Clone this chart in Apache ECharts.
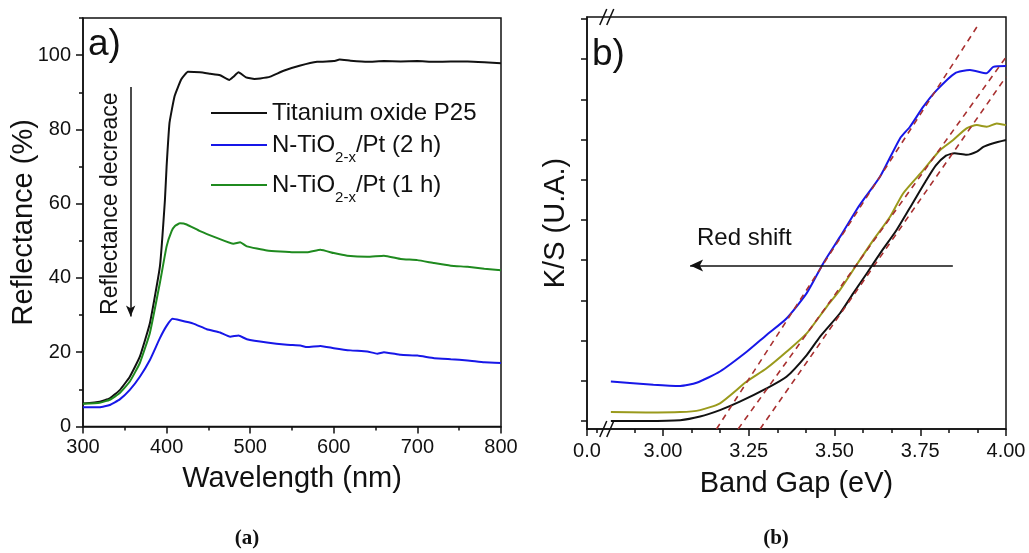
<!DOCTYPE html>
<html>
<head>
<meta charset="utf-8">
<script src="https://cdn.jsdelivr.net/npm/echarts@6/dist/echarts.min.js"></script>
<style>
  html, body { margin: 0; padding: 0; background: #fff; }
  #chart { width: 1029px; height: 553px; }
</style>
</head>
<body>
<div id="chart"></div>
<script>
const FONT = '"Liberation Sans", Arial, Helvetica, sans-serif';
const INK = '#111';

// ---- Panel (a): diffuse reflectance spectra ----
const wlP25 = [300, 320, 332, 344, 356, 368, 380, 392, 398, 400, 403.5, 409.6, 417.6, 425.5, 440, 452, 464, 475, 480, 486, 495, 505, 512, 524, 540, 560, 580, 600, 607, 620, 640, 660, 680, 700, 720, 740, 760, 780, 800];
const reflP25 = [6.2, 6.7, 7.6, 9.8, 13.4, 18.8, 27.8, 43.1, 61.0, 70.0, 81.8, 89.0, 93.5, 95.5, 95.4, 95.0, 94.6, 93.3, 94.2, 95.4, 94.0, 93.6, 93.7, 94.2, 95.8, 97.2, 98.2, 98.4, 98.8, 98.5, 98.2, 98.4, 98.3, 98.4, 98.2, 98.3, 98.3, 98.1, 97.8];

const wl2h = [300, 320, 332, 344, 356, 368, 380, 392, 400, 407, 416, 432, 448, 464, 476, 486, 496, 520, 544, 560, 568, 584, 600, 620, 640, 652, 660, 680, 700, 720, 740, 760, 780, 800];
const refl2h = [5.2, 5.2, 5.8, 7.3, 9.85, 13.4, 17.9, 23.8, 27.1, 29.0, 28.6, 27.7, 26.2, 25.3, 24.2, 24.5, 23.5, 22.6, 22.0, 21.8, 21.4, 21.7, 21.1, 20.5, 20.2, 19.6, 20.0, 19.3, 19.1, 18.4, 18.1, 17.8, 17.3, 17.1];

const wl1h = [300, 320, 332, 344, 356, 368, 380, 392, 400, 406, 410, 416, 424, 440, 460, 480, 488, 496, 520, 552, 568, 584, 600, 616, 640, 660, 680, 700, 720, 740, 760, 780, 800];
const refl1h = [6.1, 6.4, 7.2, 9.0, 12.1, 17.1, 25.2, 38.7, 48.5, 52.6, 54.0, 54.7, 54.4, 52.6, 50.8, 49.2, 49.6, 48.5, 47.4, 46.9, 46.9, 47.6, 46.7, 46.0, 45.7, 46.0, 45.1, 44.8, 44.0, 43.3, 43.0, 42.5, 42.1];

const reflMajorTicks = [0, 20, 40, 60, 80, 100];
const reflMinorTicks = [10, 30, 50, 70, 90, 110];

// ---- Panel (b): Kubelka-Munk K/S vs photon energy ----
const eP25 = [2.848, 2.95, 3.05, 3.108, 3.166, 3.224, 3.302, 3.36, 3.419, 3.458, 3.516, 3.555, 3.594, 3.633, 3.681, 3.73, 3.765, 3.795, 3.825, 3.85, 3.885, 3.915, 3.934, 3.963, 4.0];
const ksP25 = [0.0, 0.0, 0.02, 0.11, 0.27, 0.48, 0.81, 1.10, 1.64, 2.10, 2.68, 3.18, 3.67, 4.17, 4.75, 5.45, 5.95, 6.35, 6.60, 6.66, 6.62, 6.70, 6.82, 6.91, 6.99];

const e1h = [2.848, 2.95, 3.05, 3.108, 3.166, 3.244, 3.302, 3.36, 3.419, 3.477, 3.516, 3.564, 3.613, 3.662, 3.70, 3.759, 3.808, 3.846, 3.885, 3.915, 3.944, 3.973, 4.0];
const ks1h = [0.22, 0.21, 0.22, 0.27, 0.44, 0.98, 1.31, 1.72, 2.18, 2.84, 3.26, 3.88, 4.50, 5.08, 5.66, 6.24, 6.74, 6.99, 7.28, 7.36, 7.32, 7.40, 7.36];

const e2h = [2.848, 2.972, 3.05, 3.098, 3.166, 3.244, 3.302, 3.36, 3.419, 3.467, 3.516, 3.564, 3.584, 3.633, 3.691, 3.72, 3.759, 3.798, 3.851, 3.895, 3.943, 3.963, 4.0];
const ks2h = [0.98, 0.90, 0.87, 0.95, 1.23, 1.72, 2.14, 2.55, 3.18, 3.92, 4.58, 5.25, 5.50, 6.08, 7.03, 7.32, 7.82, 8.23, 8.65, 8.73, 8.65, 8.81, 8.83];

// Linear extrapolations of the absorption edges (end points)
const tan2hE = [3.156, 3.915];
const tan2hKS = [-0.2, 9.8];
const tan1hE = [3.219, 4.0];
const tan1hKS = [-0.2, 9.05];
const tanP25E = [3.283, 4.0];
const tanP25KS = [-0.2, 8.56];

// Energy axis: origin "0.0" on the left, then a break, then 3.00 - 4.00 eV
const eAxisMin = 2.7784;
const eMajorTicks = [eAxisMin, 3.0, 3.25, 3.5, 3.75, 4.0];
const eMajorLabels = ['0.0', '3.00', '3.25', '3.50', '3.75', '4.00'];
const eMinorTicks = [2.807, 2.9167, 3.0833, 3.1667, 3.3333, 3.4167, 3.5833, 3.6667, 3.8333, 3.9167];
const ksTicks = [0, 1, 2, 3, 4, 5, 6, 7, 8, 9, 10];
const eBreak = 2.836;

// Annotation anchors (data units)
const decreaseArrow = { x: 357, from: 91.4, to: 29.6 };
const decreaseText = { x: 333, y: 60 };
const redShiftArrow = { from: 3.845, to: 3.079, y: 3.87 };
const redShiftText = { x: 3.099, y: 4.55 };

const zip = (xs, ys) => xs.map((x, i) => [x, ys[i]]);

const C_P25 = '#111111';
const C_2H = '#1717e8';
const C_1H = '#1f8a1f';
const C_1H_KS = '#9a9a1c';
const C_TAN = '#a83030';

const axisLineStyle = { color: INK, width: 1.5 };
const tickStyle = { color: INK, width: 1.5 };

const chart = echarts.init(document.getElementById('chart'), null, { renderer: 'canvas' });

const legendNames = ['Titanium oxide P25', 'N-TiO2-x/Pt (2 h)', 'N-TiO2-x/Pt (1 h)'];

function tangentSeries(name, xs, ys) {
  return {
    name, type: 'line', xAxisIndex: 1, yAxisIndex: 2,
    data: zip(xs, ys), symbol: 'none', clip: true, silent: true,
    lineStyle: { color: C_TAN, width: 1.6, type: [6, 5] }, z: 4
  };
}

const option = {
  animation: false,
  backgroundColor: '#fff',
  textStyle: { fontFamily: FONT, color: INK },
  grid: [
    { left: 83, right: 528, top: 18, bottom: 126.5, show: true, borderColor: INK, borderWidth: 1.5, backgroundColor: 'transparent' },
    { left: 587, right: 23, top: 17, bottom: 124, show: true, borderColor: INK, borderWidth: 1.5, backgroundColor: 'transparent' }
  ],
  legend: {
    data: legendNames,
    orient: 'vertical',
    left: 211, top: 101,
    padding: 0,
    itemGap: 0,
    icon: 'rect',
    itemWidth: 56, itemHeight: 2,
    selectedMode: false,
    textStyle: {
      fontFamily: FONT, color: INK, fontSize: 24,
      rich: {
        m: { fontFamily: FONT, fontSize: 24, lineHeight: 28, color: INK },
        s: { fontFamily: FONT, fontSize: 15, lineHeight: 20, padding: [25, 0, 0, 0], color: INK }
      }
    },
    formatter: name => {
      const m = name.match(/^(N-TiO)(2-x)(.*)$/);
      return m ? `{m|${m[1]}}{s|${m[2]}}{m|${m[3]}}` : `{m|${name}}`;
    }
  },
  xAxis: [
    {
      gridIndex: 0, type: 'value', min: 300, max: 800, interval: 100,
      axisLine: { show: true, onZero: false, lineStyle: axisLineStyle },
      axisTick: { show: true, inside: false, length: 7, lineStyle: tickStyle },
      minorTick: { show: true, splitNumber: 2, length: 4, lineStyle: tickStyle },
      splitLine: { show: false }, minorSplitLine: { show: false },
      axisLabel: { fontSize: 20, color: INK, fontFamily: FONT, margin: 11 },
      name: 'Wavelength (nm)', nameLocation: 'middle', nameGap: 38, nameMoveOverlap: false,
      nameTextStyle: { fontSize: 29, color: INK, fontFamily: FONT }
    },
    {
      gridIndex: 1, type: 'value', min: eAxisMin, max: 4.0, position: 'bottom',
      axisLine: { show: true, onZero: false, lineStyle: axisLineStyle },
      axisTick: { show: true, inside: false, length: 7, lineStyle: tickStyle, customValues: eMajorTicks },
      splitLine: { show: false },
      axisLabel: {
        fontSize: 20, color: INK, fontFamily: FONT, margin: 12,
        customValues: eMajorTicks,
        showMinLabel: true, showMaxLabel: true,
        formatter: v => {
          const i = eMajorTicks.findIndex(t => Math.abs(t - v) < 1e-6);
          return i >= 0 ? eMajorLabels[i] : '';
        }
      },
      name: 'Band Gap (eV)', nameLocation: 'middle', nameGap: 40, nameMoveOverlap: false,
      nameTextStyle: { fontSize: 29, color: INK, fontFamily: FONT }
    },
    {
      gridIndex: 1, type: 'value', min: eAxisMin, max: 4.0, position: 'bottom',
      axisLine: { show: false, onZero: false },
      axisTick: { show: true, inside: false, length: 4, lineStyle: tickStyle, customValues: eMinorTicks },
      axisLabel: { show: false },
      splitLine: { show: false }
    }
  ],
  yAxis: [
    {
      gridIndex: 0, type: 'value', min: 0, max: 110, position: 'left',
      axisLine: { show: true, onZero: false, lineStyle: axisLineStyle },
      axisTick: { show: true, inside: false, length: 7, lineStyle: tickStyle, customValues: reflMajorTicks },
      splitLine: { show: false },
      axisLabel: { fontSize: 20, color: INK, fontFamily: FONT, margin: 12, customValues: reflMajorTicks },
      name: 'Reflectance (%)', nameLocation: 'middle', nameGap: 45, nameMoveOverlap: false,
      nameTextStyle: { fontSize: 29, color: INK, fontFamily: FONT }
    },
    {
      gridIndex: 0, type: 'value', min: 0, max: 110, position: 'left',
      axisLine: { show: false, onZero: false },
      axisTick: { show: true, inside: false, length: 4, lineStyle: tickStyle, customValues: reflMinorTicks },
      axisLabel: { show: false },
      splitLine: { show: false }
    },
    {
      gridIndex: 1, type: 'value', min: -0.2, max: 10.05, position: 'left',
      axisLine: { show: true, onZero: false, lineStyle: axisLineStyle },
      axisTick: { show: true, inside: false, length: 6, lineStyle: tickStyle, customValues: ksTicks },
      axisLabel: { show: false },
      splitLine: { show: false },
      name: 'K/S (U.A.)', nameLocation: 'middle', nameGap: 17, nameMoveOverlap: false,
      nameTextStyle: { fontSize: 29, color: INK, fontFamily: FONT }
    }
  ],
  series: [
    {
      name: legendNames[0], type: 'line', xAxisIndex: 0, yAxisIndex: 0,
      data: zip(wlP25, reflP25), symbol: 'none', smooth: 0.12,
      lineStyle: { color: C_P25, width: 2 }, itemStyle: { color: C_P25 },
      markLine: {
        silent: true, symbol: ['none', 'arrow'], symbolSize: [7, 11],
        label: { show: false },
        lineStyle: { color: INK, width: 1.5, type: 'solid' },
        data: [[{ coord: [decreaseArrow.x, decreaseArrow.from] }, { coord: [decreaseArrow.x, decreaseArrow.to] }]]
      }
    },
    {
      name: legendNames[1], type: 'line', xAxisIndex: 0, yAxisIndex: 0,
      data: zip(wl2h, refl2h), symbol: 'none', smooth: 0.12,
      lineStyle: { color: C_2H, width: 2 }, itemStyle: { color: C_2H }
    },
    {
      name: legendNames[2], type: 'line', xAxisIndex: 0, yAxisIndex: 0,
      data: zip(wl1h, refl1h), symbol: 'none', smooth: 0.12,
      lineStyle: { color: C_1H, width: 2 }, itemStyle: { color: C_1H }
    },
    {
      name: 'K/S P25', type: 'line', xAxisIndex: 1, yAxisIndex: 2,
      data: zip(eP25, ksP25), symbol: 'none', smooth: 0.2,
      lineStyle: { color: C_P25, width: 2 },
      markLine: {
        silent: true, symbol: ['none', 'arrow'], symbolSize: [9, 13],
        label: { show: false },
        lineStyle: { color: INK, width: 1.5, type: 'solid' },
        data: [[{ coord: [redShiftArrow.from, redShiftArrow.y] }, { coord: [redShiftArrow.to, redShiftArrow.y] }]]
      }
    },
    {
      name: 'K/S 2 h', type: 'line', xAxisIndex: 1, yAxisIndex: 2,
      data: zip(e2h, ks2h), symbol: 'none', smooth: 0.2,
      lineStyle: { color: C_2H, width: 2 }
    },
    {
      name: 'K/S 1 h', type: 'line', xAxisIndex: 1, yAxisIndex: 2,
      data: zip(e1h, ks1h), symbol: 'none', smooth: 0.2,
      lineStyle: { color: C_1H_KS, width: 2 }
    },
    tangentSeries('Edge fit 2 h', tan2hE, tan2hKS),
    tangentSeries('Edge fit 1 h', tan1hE, tan1hKS),
    tangentSeries('Edge fit P25', tanP25E, tanP25KS)
  ]
};

chart.setOption(option);

// Text annotations and axis-break marks placed through the axes' own scales
const pa = (x, y) => chart.convertToPixel({ xAxisIndex: 0, yAxisIndex: 0 }, [x, y]);
const pb = (x, y) => chart.convertToPixel({ xAxisIndex: 1, yAxisIndex: 2 }, [x, y]);

const decP = pa(decreaseText.x, decreaseText.y);
const redP = pb(redShiftText.x, redShiftText.y);
const brkBottom = pb(eBreak, -0.2);
const brkTop = pb(eBreak, 10.05);

function breakMarks(cx, cy) {
  const els = [];
  [-3.5, 3.5].forEach(dx => {
    els.push({
      type: 'line', silent: true, z: 10,
      shape: { x1: cx + dx - 3.5, y1: cy + 8, x2: cx + dx + 3.5, y2: cy - 8 },
      style: { stroke: INK, lineWidth: 1.5 }
    });
  });
  return els;
}

chart.setOption({
  graphic: [
    { type: 'text', left: 88, top: 26, style: { text: 'a)', font: `37px ${FONT}`, fill: INK } },
    { type: 'text', left: 592, top: 36, style: { text: 'b)', font: `37px ${FONT}`, fill: INK } },
    {
      type: 'text', x: decP[0], y: decP[1], rotation: Math.PI / 2,
      style: { text: 'Reflectance decreace', font: `23px ${FONT}`, fill: INK, align: 'center', verticalAlign: 'middle' }
    },
    {
      type: 'text', x: redP[0], y: redP[1],
      style: { text: 'Red shift', font: `24px ${FONT}`, fill: INK, align: 'left', verticalAlign: 'middle' }
    },
    {
      type: 'text', x: 247, y: 539,
      style: {
        text: '{p|(a)}', align: 'center', verticalAlign: 'middle',
        rich: { p: { fontFamily: '"Liberation Serif", "DejaVu Serif", serif', fontWeight: 'bold', fontSize: 21, fill: INK } }
      }
    },
    {
      type: 'text', x: 776, y: 539,
      style: {
        text: '{p|(b)}', align: 'center', verticalAlign: 'middle',
        rich: { p: { fontFamily: '"Liberation Serif", "DejaVu Serif", serif', fontWeight: 'bold', fontSize: 21, fill: INK } }
      }
    },
    ...breakMarks(brkBottom[0], brkBottom[1]),
    ...breakMarks(brkTop[0], brkTop[1])
  ]
});
</script>
</body>
</html>
